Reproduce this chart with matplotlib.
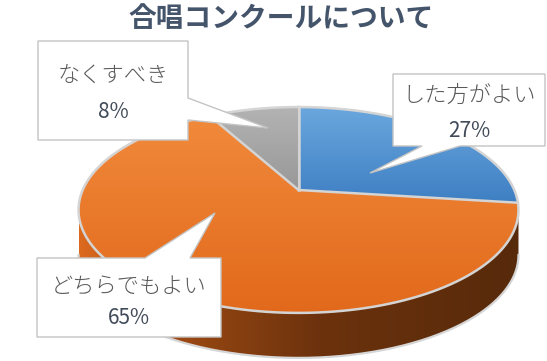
import numpy as np
import matplotlib
matplotlib.use("Agg")
import matplotlib.pyplot as plt
from matplotlib.patches import Polygon
from matplotlib.colors import LinearSegmentedColormap

plt.rcParams['font.family'] = ['Noto Sans CJK JP', 'DejaVu Sans']

# ---- data ----
title = "合唱コンクールについて"
categories = ["した方がよい", "どちらでもよい", "なくすべき"]
values = [27, 65, 8]
top_colors = [("#6aa7de", "#3e7fc3"), ("#f18a3c", "#e2691b"), ("#b3b3b3", "#989898")]

# ---- geometry (pixel space) ----
W_PX, H_PX = 547, 361
cx, b_, a_, c_, W = 298.5, 190.0, -62.2, 0.194, 215.8
depth = 45.0

def proj(theta_deg, r=1.0, dz=0.0):
    t = np.radians(theta_deg)
    u = r * np.sin(t)
    v = r * np.cos(t)
    den = c_ * v + 1
    return np.column_stack([cx + W * u / den, (a_ * v + b_) / den + dz])

fig = plt.figure(figsize=(W_PX / 100, H_PX / 100), dpi=100)
ax = fig.add_axes([0, 0, 1, 1])
ax.set_xlim(0, W_PX)
ax.set_ylim(H_PX, 0)
ax.axis('off')

def grad_fill(poly, c0, c1, vertical=True, stops=None):
    if stops is None:
        cmap = LinearSegmentedColormap.from_list("g", [c0, c1])
    else:
        cmap = LinearSegmentedColormap.from_list("g", stops)
    verts = np.asarray(poly)
    x0, x1 = verts[:, 0].min(), verts[:, 0].max()
    y0, y1 = verts[:, 1].min(), verts[:, 1].max()
    if vertical:
        img = np.linspace(0, 1, 256).reshape(-1, 1)
    else:
        img = np.linspace(0, 1, 256).reshape(1, -1)
    patch = Polygon(verts, closed=True, facecolor='none', edgecolor='none')
    ax.add_patch(patch)
    im = ax.imshow(img, cmap=cmap, extent=(x0, x1, y1, y0), origin='upper',
                   aspect='auto', interpolation='bilinear', zorder=patch.get_zorder())
    im.set_clip_path(patch)
    return patch

# ---- side (front, visible part) ----
th_r = np.degrees(np.arccos(-c_))
th_l = 360 - th_r
ths = np.linspace(th_r, th_l, 200)
top_edge = proj(ths)
bot_edge = proj(ths, dz=depth)
side = np.vstack([top_edge, bot_edge[::-1]])
grad_fill(side, None, None, vertical=False,
          stops=[(0.0, "#dc6a1e"), (0.18, "#a84c15"), (0.3, "#8f4311"),
                 (0.55, "#6c320d"), (1.0, "#572a0b")])
ax.plot(bot_edge[:, 0], bot_edge[:, 1], color="#d6d6d6", lw=1.6, zorder=3)

# ---- top face slices ----
total = sum(values)
start = 0.0
angles = []
for val, (c0, c1) in zip(values, top_colors):
    span = 360.0 * val / total
    th = np.linspace(start, start + span, 200)
    arc = proj(th)
    centre = proj(np.array([0.0]), r=0.0)
    poly = np.vstack([centre, arc])
    grad_fill(poly, c0, c1, vertical=True)
    angles.append((start, start + span))
    start += span

# rims and separators
full = proj(np.linspace(0, 360, 400))
ax.plot(full[:, 0], full[:, 1], color="#d4d4d4", lw=1.8, zorder=4)
centre = proj(np.array([0.0]), r=0.0)[0]
for (s, e) in angles:
    p = proj(np.array([s]))[0]
    ax.plot([centre[0], p[0]], [centre[1], p[1]], color="#d4d4d4", lw=1.8, zorder=4)

# ---- callouts ----
def callout(box, ptr, label, pct, lab_y, pct_y):
    x0, y0, x1, y1 = box
    poly = Polygon(ptr, closed=True, facecolor='white', edgecolor='#c4c4c4',
                   lw=1.0, zorder=6, joinstyle='miter')
    ax.add_patch(poly)
    xc = (x0 + x1) / 2
    ax.text(xc, lab_y, label, ha='center', va='center', fontsize=16,
            color='#595959', fontweight='light', zorder=7)
    ax.text(xc, pct_y, pct, ha='center', va='center', fontsize=15,
            color='#404a58', zorder=7)

pct = [f"{v}%" for v in values]

# なくすべき (box left-top, pointer from right edge)
bx = (38, 41, 188, 140)
callout(bx, [(38, 41), (188, 41), (188, 98), (268, 128), (188, 120), (188, 140), (38, 140)],
        categories[2], pct[2], 76, 112)

# した方がよい (box right-top, pointer from bottom edge)
bx = (393, 74, 545, 146)
callout(bx, [(393, 74), (545, 74), (545, 146), (460, 146), (370, 173), (422, 146), (393, 146)],
        categories[0], pct[0], 96, 131)

# どちらでもよい (box left-bottom, pointer from top edge)
bx = (37, 258, 221, 337)
callout(bx, [(37, 258), (145, 258), (215, 213), (190, 258), (221, 258), (221, 337), (37, 337)],
        categories[1], pct[1], 287, 318)

# ---- title ----
ax.text(281, 19, title, ha='center', va='center', fontsize=20, fontweight='bold',
        color='#44546a', zorder=8)

fig.savefig("out.png", dpi=100)
